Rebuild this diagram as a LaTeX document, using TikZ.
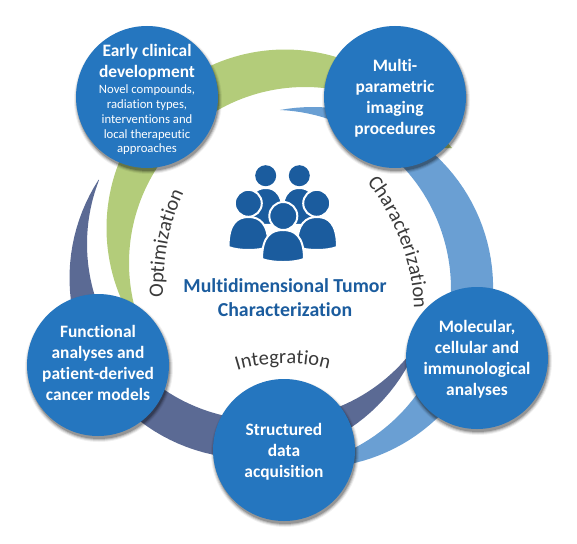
\documentclass[tikz,border=0pt]{standalone}
\usepackage{fontspec}
\setmainfont{Carlito}[Ligatures=CommonOff]
\usetikzlibrary{decorations.text}
\definecolor{bub}{HTML}{2576BF}
\definecolor{grn}{HTML}{B3CC7A}
\definecolor{lblue}{HTML}{6A9FD3}
\definecolor{slate}{HTML}{5B6A94}
\definecolor{icon}{HTML}{1B5C9E}
\definecolor{ink}{HTML}{3A3A3A}
\tikzset{
 bubble/.style={circle,fill=bub,minimum size=142pt,inner sep=0pt},
 bubbletext/.style={text=white,align=center,font=\fontsize{17.4}{21}\selectfont\bfseries},
 person/.style={fill=icon,draw=white,line width=2pt},
}
\newcommand{\dome}[4]{
 \path[person] ({#1-#2},{#4-4}) .. controls ({#1-#2},{#3+6}) and ({#1-.55*#2},{#3}) .. ({#1},{#3})
  .. controls ({#1+.55*#2},{#3}) and ({#1+#2},{#3+6}) .. ({#1+#2},{#4-4})
  .. controls ({#1+.5*#2},{#4}) and ({#1-.5*#2},{#4}) .. ({#1-#2},{#4-4}) -- cycle;
}
\newcommand{\halo}[2]{
 \foreach \r/\o in {74/.06,73/.10,72/.14,71/.2}{\fill[black,opacity=\o] (#1+1,#2+3) circle (\r);}
}
\newcommand{\arctext}[2]{
 \path[decorate,decoration={text along path,text align=center,
   text={|\fontsize{20.5}{20}\selectfont\color{ink}|#2}}] #1;
}
\begin{document}
\begin{tikzpicture}[x=1pt,y=-1pt,samples=70,variable=\t]
\useasboundingbox (0,0) rectangle (577,543);
% crescents: circular edges, angles measured with y growing downwards
\fill[grn] plot[domain=-68.6:-207] ({285+178.5*cos(\t)},{228+178.5*sin(\t)})
  -- plot[domain=-195:-77] ({305+176*cos(\t)},{263+176*sin(\t)}) -- cycle;
\fill[grn] (446,141) -- (452,148) -- (444,148) -- cycle;
\fill[slate] plot[domain=213:16.7] ({250+180.5*cos(\t)},{278+180.5*sin(\t)})
  -- plot[domain=20:85] ({272+177*cos(\t)},{243+177*sin(\t)})
  -- plot[domain=92:201.3] ({263+176*cos(\t)},{244+176*sin(\t)}) -- cycle;
\fill[lblue] plot[domain=-100.4:84.5] ({312.6+180.5*cos(\t)},{287.5+180.5*sin(\t)})
  -- plot[domain=71:-87.4] ({271.8+179.2*cos(\t)},{289+179.2*sin(\t)}) -- cycle;
% shadows
\halo{147}{97}\halo{395}{97}\halo{477}{358}\halo{284}{450}\halo{98}{365}
% bubbles
\node[bubble] (early) at (147,97) {};
\node[bubble] (imaging) at (395,97) {};
\node[bubble] (molecular) at (477,358) {};
\node[bubble] (structured) at (284,450) {};
\node[bubble] (functional) at (98,365) {};
\node[bubbletext] (imagingtext) at (395,98) {Multi-\\parametric\\imaging\\procedures};
\node[bubbletext] (moleculartext) at (477,359) {Molecular,\\cellular and\\immunological\\analyses};
\node[bubbletext] (structuredtext) at (284,452) {Structured\\data\\acquisition};
\node[bubbletext] (functionaltext) at (98,363) {Functional\\analyses and\\patient-derived\\cancer models};
\node[bubbletext] (earlyhead) at (147,62) {Early clinical\\development};
\node[text=white,align=center,font=\fontsize{12.7}{14.8}\selectfont] (earlysub) at (147,120) {Novel compounds,\\radiation types,\\interventions and\\local therapeutic\\approaches};
% icon
\dome{265.7}{18}{188}{226}
\dome{299.3}{18}{188}{226}
\fill[icon] (265.7,175.7) circle (10.5);
\fill[icon] (299.3,175.7) circle (10.5);
\dome{248.5}{20}{217}{251}
\dome{317}{20}{217}{251}
\path[person] (248.3,203.3) circle (13.5);
\path[person] (316.7,203.3) circle (13.5);
\dome{283}{21}{230}{263}
\path[person] (283.3,216) circle (14);
% title
\node[text=icon,align=center,font=\fontsize{19.8}{24}\selectfont\bfseries] (title) at (285,298) {Multidimensional Tumor\\Characterization};
% curved labels
\arctext{(366,181) .. controls (390,210) and (414,260) .. (414,310)}{Characterization}
\arctext{(163,298) .. controls (163,260) and (168,226) .. (184,192)}{Optimization}
\arctext{(235,371) .. controls (261,362) and (304,361) .. (331,370)}{Integration}
\end{tikzpicture}
\end{document}
